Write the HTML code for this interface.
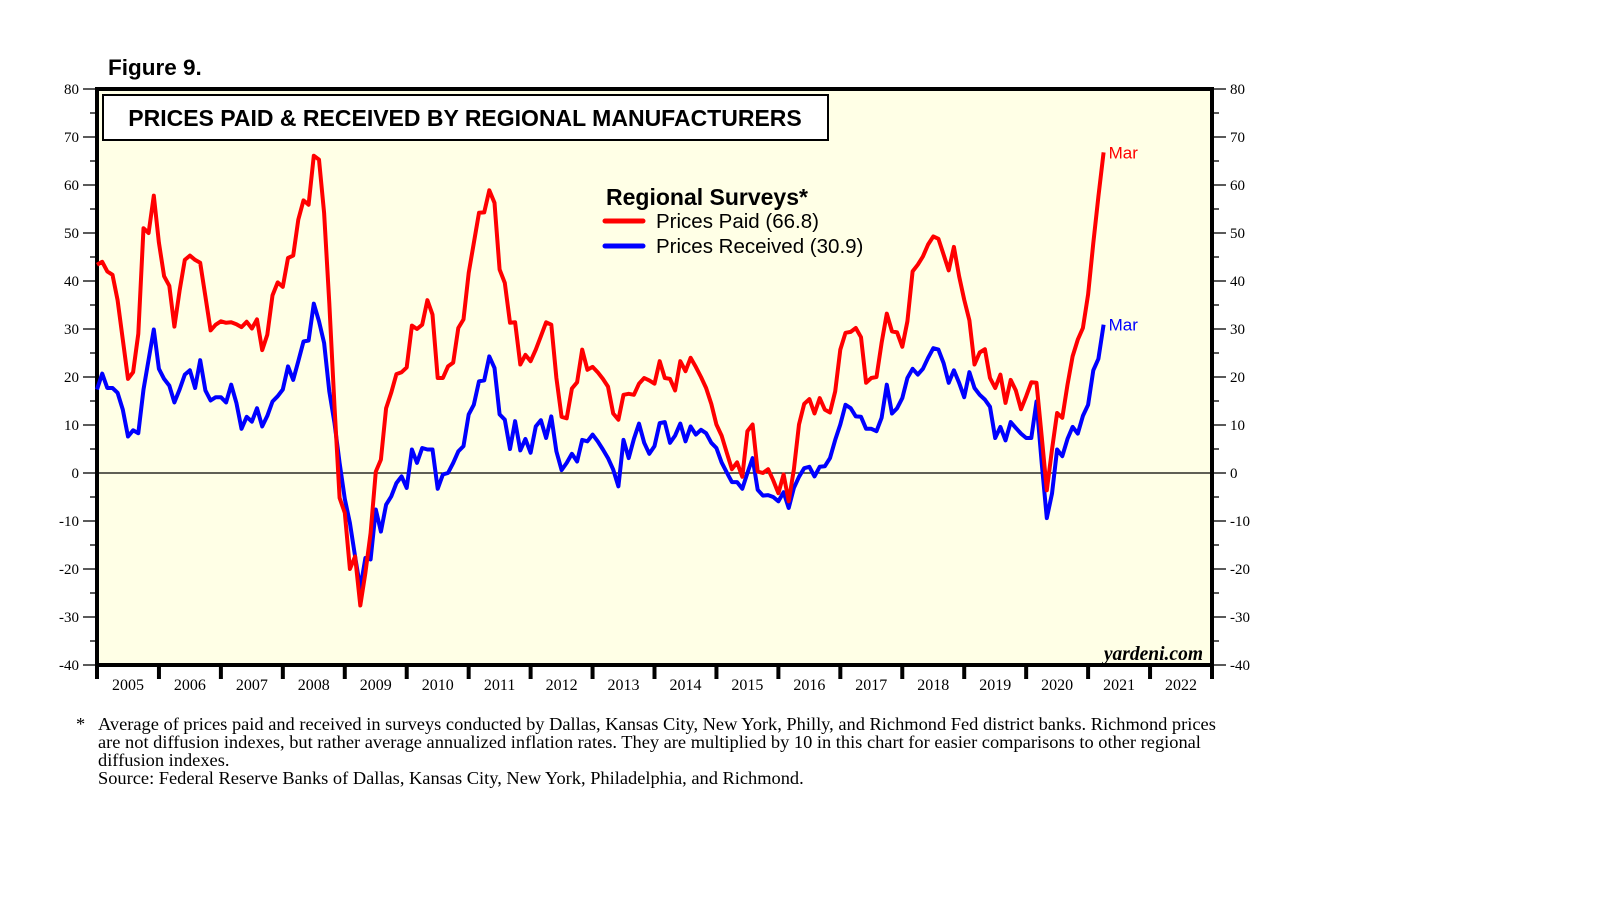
<!DOCTYPE html>
<html><head><meta charset="utf-8"><style>
html,body{margin:0;padding:0;background:#fff;}
svg{display:block;}
</style></head><body>
<svg id="chart" width="1610" height="910" viewBox="0 0 1610 910" xmlns="http://www.w3.org/2000/svg">
<text x="108" y="75" font-family="Liberation Sans, sans-serif" font-weight="bold" font-size="22.5">Figure 9.</text>
<rect x="97" y="89" width="1115" height="576" fill="#FFFFE6" stroke="#000" stroke-width="4"/>
<rect x="103" y="95" width="725" height="45" fill="#fff" stroke="#000" stroke-width="2"/>
<text x="465" y="126" text-anchor="middle" font-family="Liberation Sans, sans-serif" font-weight="bold" font-size="23">PRICES PAID &amp; RECEIVED BY REGIONAL MANUFACTURERS</text>
<g id="axes"></g>
<g id="series"></g>
<g>
<text x="606" y="205" font-family="Liberation Sans, sans-serif" font-weight="bold" font-size="23">Regional Surveys*</text>
<line x1="605" y1="221" x2="643" y2="221" stroke="#f00" stroke-width="5" stroke-linecap="round"/>
<text x="656" y="228" font-family="Liberation Sans, sans-serif" font-size="20.5">Prices Paid (66.8)</text>
<line x1="605" y1="246" x2="643" y2="246" stroke="#00f" stroke-width="5" stroke-linecap="round"/>
<text x="656" y="253" font-family="Liberation Sans, sans-serif" font-size="20.5">Prices Received (30.9)</text>
</g>
<text x="1203" y="660" text-anchor="end" font-family="Liberation Serif, serif" font-weight="bold" font-style="italic" font-size="19.5">yardeni.com</text>
<g font-family="Liberation Serif, serif" font-size="18.4">
<text x="76" y="730">*</text>
<text x="98" y="730">Average of prices paid and received in surveys conducted by Dallas, Kansas City, New York, Philly, and Richmond Fed district banks. Richmond prices</text>
<text x="98" y="748">are not diffusion indexes, but rather average annualized inflation rates. They are multiplied by 10 in this chart for easier comparisons to other regional</text>
<text x="98" y="766">diffusion indexes.</text>
<text x="98" y="784">Source: Federal Reserve Banks of Dallas, Kansas City, New York, Philadelphia, and Richmond.</text>
</g>
</svg>
<script>
const years = [2005,2006,2007,2008,2009,2010,2011,2012,2013,2014,2015,2016,2017,2018,2019,2020,2021,2022];
const yTicks = [80,70,60,50,40,30,20,10,0,-10,-20,-30,-40];
const pricesPaid = [43.4,44,42,41.3,36,27.8,19.6,21,29,51,50,57.8,48,41,39,30.5,38,44.4,45.3,44.4,43.8,36.8,29.7,30.9,31.6,31.3,31.4,31,30.4,31.5,30.1,32,25.6,28.8,37,39.7,38.8,44.8,45.3,52.8,56.8,55.9,66.1,65.3,54.2,35.4,13.9,-5.2,-8.3,-20,-17.4,-27.6,-20.8,-12.5,0.3,2.8,13.5,16.7,20.6,21,22,30.7,30,30.9,36,33,19.8,19.8,22.2,23,30.2,32,41.7,47.9,54.2,54.3,58.9,56.3,42.4,39.6,31.3,31.4,22.6,24.6,23.3,25.7,28.5,31.4,30.9,19.8,11.7,11.4,17.6,18.9,25.7,21.5,22.1,21,19.6,18,12.4,11.1,16.3,16.5,16.3,18.6,19.8,19.3,18.6,23.3,19.8,19.6,17.2,23.3,21.2,24,22.1,20,17.7,14.4,10.1,7.8,4.2,0.8,2.2,-0.8,8.7,10.1,0.3,0,0.8,-1.5,-4.2,-0.3,-5.9,0.8,10.1,14.4,15.4,12.4,15.6,13.2,12.6,17,25.7,29.2,29.4,30.2,28.3,18.8,19.8,20,27.1,33.2,29.5,29.3,26.3,31.6,42,43.4,45.1,47.6,49.3,48.8,45.5,42.2,47.1,41,36.1,31.8,22.6,25.1,25.8,19.8,17.7,20.5,14.6,19.4,17.2,13.3,16,18.9,18.8,7.6,-3.6,4.9,12.5,11.5,18.4,24.3,27.8,30.2,37.2,47.9,57.6,66.8];
const pricesReceived = [17.4,20.7,17.7,17.7,16.7,13.2,7.6,8.9,8.3,17.4,23.6,29.9,21.7,19.6,18.2,14.7,17.4,20.5,21.4,17.7,23.5,17.2,15.1,15.8,15.8,14.7,18.4,14.6,9.2,11.7,10.7,13.5,9.7,11.9,14.9,16,17.4,22.2,19.4,23.3,27.4,27.6,35.3,31.6,27.1,17,10.4,2.1,-5.4,-10.4,-17.4,-24,-17.7,-18,-7.6,-12.2,-6.6,-4.9,-2.1,-0.7,-3.1,4.9,2.1,5.2,4.9,4.9,-3.3,-0.3,0,2.1,4.5,5.6,12.2,14.2,19.1,19.3,24.3,21.9,12.2,11.1,5,10.8,4.7,7.1,4.2,9.7,11,7.3,11.8,4.5,0.6,2.1,4,2.4,6.9,6.6,8,6.6,4.9,3.1,0.7,-2.8,6.9,3.1,7.1,10.3,6.3,4,5.6,10.4,10.6,6.3,7.8,10.3,6.6,9.7,8,9,8.3,6.3,5.2,2.2,0.1,-1.9,-1.9,-3.3,0,3.1,-3.5,-4.7,-4.6,-5,-5.9,-4,-7.3,-3.1,-0.8,1,1.3,-0.7,1.3,1.4,3.1,6.9,10.1,14.2,13.5,11.8,11.7,9.2,9.2,8.7,11.5,18.4,12.4,13.5,15.6,19.8,21.7,20.5,21.7,24,26,25.7,22.9,18.8,21.4,18.8,15.8,21,17.7,16.3,15.3,13.8,7.3,9.6,6.8,10.6,9.4,8.2,7.3,7.3,14.9,2.1,-9.4,-4.3,4.9,3.5,7.1,9.6,8.2,11.9,14.2,21.4,23.8,30.9];

const NS = "http://www.w3.org/2000/svg";
const L = 97, R = 1212, T = 89, B = 665, YMAX = 80, YMIN = -40;
const yearW = (R - L) / years.length;
function X(i){ return L + i * yearW / 12; }
function Y(v){ return T + (YMAX - v) * (B - T) / (YMAX - YMIN); }
function mk(tag, attrs, parent){ const e = document.createElementNS(NS, tag); for (const k in attrs) e.setAttribute(k, attrs[k]); parent.appendChild(e); return e; }

const axes = document.getElementById('axes');
const zl = mk('line', {x1:L, x2:R, y1:Y(0), y2:Y(0), stroke:'#000', 'stroke-width':1.2}, axes);


for (let v = YMIN; v <= YMAX; v += 5) {
  const major = v % 10 === 0;
  const t1 = mk('line', {x1: major ? 83 : 90, x2: L, y1: Y(v), y2: Y(v), stroke:'#000', 'stroke-width':1.3}, axes);
  
  
  const t2 = mk('line', {x1: R, x2: major ? 1226 : 1219, y1: Y(v), y2: Y(v), stroke:'#000', 'stroke-width':1.3}, axes);
  
  
}
yTicks.forEach(v => {
  const a = mk('text', {x:79, y:Y(v)+5, 'text-anchor':'end', 'font-family':'Liberation Serif, serif', 'font-size':15}, axes);
  a.textContent = v;
  
  
  const b = mk('text', {x:1230, y:Y(v)+5, 'font-family':'Liberation Serif, serif', 'font-size':15}, axes);
  b.textContent = v;
  
  
});
for (let k = 0; k <= years.length; k++) {
  const tk = mk('line', {x1:L + k*yearW, x2:L + k*yearW, y1:B, y2:B+14, stroke:'#000', 'stroke-width':4}, axes);
  
  
}
years.forEach((yr, k) => {
  const t = mk('text', {x:L + (k+0.5)*yearW, y:690, 'text-anchor':'middle', 'font-family':'Liberation Serif, serif', 'font-size':16}, axes);
  t.textContent = yr;
  
  
});

const series = document.getElementById('series');
function drawLine(vals, color, name) {
  const d = vals.map((v,i) => (i ? 'L' : 'M') + X(i).toFixed(1) + ',' + Y(v).toFixed(1)).join('');
  const p = mk('path', {d:d, fill:'none', stroke:color, 'stroke-width':4, 'stroke-linejoin':'round'}, series);
  
  
  const n = vals.length - 1;
  const lab = mk('text', {x:X(n)+5, y:Y(vals[n])+6, fill:color, 'font-family':'Liberation Sans, sans-serif', 'font-size':17}, series);
  lab.textContent = 'Mar';
  
  
}
drawLine(pricesReceived, '#0000ff', 'prices-received-line');
drawLine(pricesPaid, '#ff0000', 'prices-paid-line');
</script>
</body></html>
